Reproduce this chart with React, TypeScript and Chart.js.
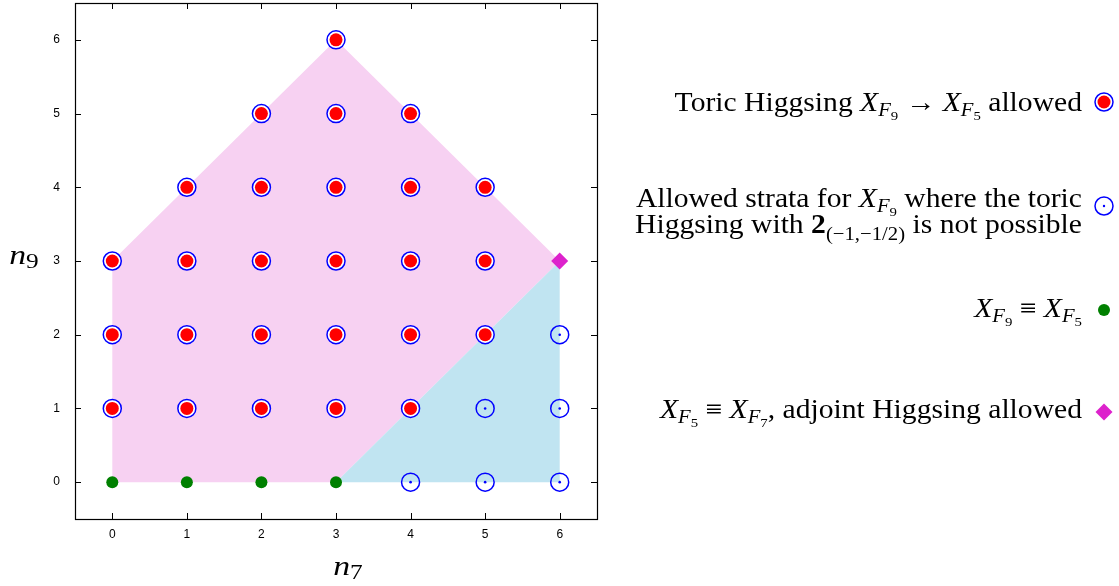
import React, { useEffect, useRef } from 'react';
import { Chart, registerables } from 'chart.js';
Chart.register(...registerables);

const xTicks = [0, 1, 2, 3, 4, 5, 6];
const yTicks = [0, 1, 2, 3, 4, 5, 6];
const yTickLabels = ['0', '1', '2', '3', '4', '5', '6'];
const toricX = [3, 2, 3, 4, 1, 2, 3, 4, 5, 0, 1, 2, 3, 4, 5, 0, 1, 2, 3, 4, 5, 0, 1, 2, 3, 4];
const toricY = [6, 5, 5, 5, 4, 4, 4, 4, 4, 3, 3, 3, 3, 3, 3, 2, 2, 2, 2, 2, 2, 1, 1, 1, 1, 1];
const strataX = [5, 6, 6, 4, 5, 6];
const strataY = [1, 1, 2, 0, 0, 0];
const equivX = [0, 1, 2, 3];
const equivY = [0, 0, 0, 0];
const adjointX = [6];
const adjointY = [3];
const pinkX = [0, 0, 3, 6, 3, 0];
const pinkY = [0, 3, 6, 3, 0, 0];
const blueX = [3, 6, 6, 3];
const blueY = [0, 0, 3, 0];

const PINK = '#f7d1f2';
const LBLUE = '#c0e4f1';
const BLUE = '#0000ff';
const RED = '#ff0000';
const GREEN = '#008000';
const MAGENTA = '#dd22cc';
const SERIF = "'Liberation Serif', 'DejaVu Serif', serif";
const SANS = "'Liberation Sans', 'DejaVu Sans', sans-serif";

type Run = { t: string; f?: 'i' | 'b' | 'r'; s?: number; dy?: number };

const I = (t: string): Run => ({ t, f: 'i' });
const R = (t: string): Run => ({ t, f: 'r' });
const XF = (n: string): Run[] => [
  { t: 'X', f: 'i' },
  { t: 'F', f: 'i', s: 0.7, dy: 0.2 },
  { t: n, f: 'r', s: 0.5, dy: 0.33 },
];

const legendLines: { runs: Run[]; base: number }[] = [
  { runs: [R('Toric Higgsing '), ...XF('9'), R(' \u2192 '), ...XF('5'), R(' allowed')], base: 111 },
  { runs: [R('Allowed strata for '), ...XF('9'), R(' where the toric')], base: 207 },
  {
    runs: [R('Higgsing with '), { t: '2', f: 'b' }, { t: '(\u22121,\u22121/2)', f: 'r', s: 0.7, dy: 0.25 }, R(' is not possible')],
    base: 233,
  },
  { runs: [...XF('9'), R(' \u2261 '), ...XF('5')], base: 317 },
  { runs: [...XF('5'), R(' \u2261 '), ...XF('7'), R(', adjoint Higgsing allowed')], base: 418 },
];

function fontOf(r: Run, size: number) {
  return `${r.f === 'i' ? 'italic ' : ''}${r.f === 'b' ? 'bold ' : ''}${(size * (r.s ?? 1)).toFixed(1)}px ${SERIF}`;
}

function drawRuns(
  ctx: CanvasRenderingContext2D,
  runs: Run[],
  x0: number,
  base: number,
  size: number,
  align: 'right' | 'left' | 'center',
  k: number
) {
  let w = 0;
  for (const r of runs) {
    ctx.font = fontOf(r, size);
    w += ctx.measureText(r.t).width;
  }
  const W = w * k;
  const start = align === 'right' ? x0 - W : align === 'center' ? x0 - W / 2 : x0;
  ctx.save();
  ctx.translate(start, 0);
  ctx.scale(k, 1);
  ctx.textAlign = 'left';
  ctx.textBaseline = 'alphabetic';
  ctx.fillStyle = '#000';
  let x = 0;
  for (const r of runs) {
    ctx.font = fontOf(r, size);
    ctx.fillText(r.t, x, base + (r.dy ?? 0) * size);
    x += ctx.measureText(r.t).width;
  }
  ctx.restore();
}

const decor = {
  id: 'decor',
  afterDraw(chart: any) {
    const ctx: CanvasRenderingContext2D = chart.ctx;
    const a = chart.chartArea;
    const xs = chart.scales.x;
    const ys = chart.scales.y;
    ctx.save();
    ctx.strokeStyle = '#000';
    ctx.lineWidth = 1;
    ctx.beginPath();
    for (const v of xTicks) {
      const px = Math.round(xs.getPixelForValue(v)) + 0.5;
      ctx.moveTo(px, a.bottom);
      ctx.lineTo(px, a.bottom - 6);
      ctx.moveTo(px, a.top);
      ctx.lineTo(px, a.top + 6);
    }
    for (const v of yTicks) {
      const py = Math.round(ys.getPixelForValue(v)) + 0.5;
      ctx.moveTo(a.left, py);
      ctx.lineTo(a.left + 6, py);
      ctx.moveTo(a.right, py);
      ctx.lineTo(a.right - 6, py);
    }
    ctx.stroke();
    ctx.lineWidth = 1.2;
    ctx.strokeRect(Math.round(a.left) + 0.5, Math.round(a.top) + 0.5, Math.round(a.right - a.left), Math.round(a.bottom - a.top));

    // y tick labels
    ctx.fillStyle = '#000';
    ctx.font = `12px ${SANS}`;
    ctx.textAlign = 'right';
    ctx.textBaseline = 'middle';
    yTicks.forEach((v, i) => {
      ctx.fillText(yTickLabels[i], a.left - 15, ys.getPixelForValue(v));
    });

    // axis titles
    drawRuns(ctx, [I('n'), { t: '7', f: 'r', s: 0.75, dy: 0.15 }], 348, 575, 27, 'center', 1.25);
    drawRuns(ctx, [I('n'), { t: '9', f: 'r', s: 0.75, dy: 0.15 }], 24, 264, 27, 'center', 1.25);

    // legend
    for (const l of legendLines) drawRuns(ctx, l.runs, 1082, l.base, 27, 'right', 1.097);

    // legend symbols
    const sx = 1104;
    ctx.lineWidth = 1.5;
    ctx.strokeStyle = BLUE;
    ctx.fillStyle = '#fff';
    ctx.beginPath();
    ctx.arc(sx, 102, 9, 0, Math.PI * 2);
    ctx.fill();
    ctx.stroke();
    ctx.fillStyle = RED;
    ctx.beginPath();
    ctx.arc(sx, 102, 6.5, 0, Math.PI * 2);
    ctx.fill();

    ctx.beginPath();
    ctx.arc(sx, 206, 9, 0, Math.PI * 2);
    ctx.stroke();
    ctx.fillStyle = BLUE;
    ctx.beginPath();
    ctx.arc(sx, 206, 1.2, 0, Math.PI * 2);
    ctx.fill();

    ctx.fillStyle = GREEN;
    ctx.beginPath();
    ctx.arc(sx, 310, 6, 0, Math.PI * 2);
    ctx.fill();

    ctx.fillStyle = MAGENTA;
    ctx.beginPath();
    ctx.moveTo(sx, 412 - 8.5);
    ctx.lineTo(sx + 8.5, 412);
    ctx.lineTo(sx, 412 + 8.5);
    ctx.lineTo(sx - 8.5, 412);
    ctx.closePath();
    ctx.fill();
    ctx.restore();
  },
};

const pts = (xs: number[], ys: number[]) => xs.map((x, i) => ({ x, y: ys[i] }));

export default function App() {
  const ref = useRef<HTMLCanvasElement>(null);
  useEffect(() => {
    document.body.style.margin = '0';
    const chart = new Chart(ref.current!, {
      type: 'scatter',
      data: {
        datasets: [
          {
            type: 'line',
            data: pts(pinkX, pinkY),
            showLine: true,
            fill: 'shape',
            backgroundColor: PINK,
            borderWidth: 0,
            borderColor: 'rgba(0,0,0,0)',
            pointRadius: 0,
            tension: 0,
            order: 20,
          } as any,
          {
            type: 'line',
            data: pts(blueX, blueY),
            showLine: true,
            fill: 'shape',
            backgroundColor: LBLUE,
            borderWidth: 0,
            borderColor: 'rgba(0,0,0,0)',
            pointRadius: 0,
            tension: 0,
            order: 19,
          } as any,
          {
            data: pts(toricX, toricY),
            pointRadius: 9,
            pointBorderColor: BLUE,
            pointBorderWidth: 1.5,
            pointBackgroundColor: '#fff',
            order: 6,
          },
          {
            data: pts(toricX, toricY),
            pointRadius: 6.5,
            pointBorderWidth: 0,
            pointBackgroundColor: RED,
            order: 5,
          },
          {
            data: pts(strataX, strataY),
            pointRadius: 9,
            pointBorderColor: BLUE,
            pointBorderWidth: 1.5,
            pointBackgroundColor: 'rgba(0,0,0,0)',
            order: 4,
          },
          {
            data: pts(strataX, strataY),
            pointRadius: 1.3,
            pointBorderWidth: 0,
            pointBackgroundColor: BLUE,
            order: 3,
          },
          {
            data: pts(equivX, equivY),
            pointRadius: 6,
            pointBorderWidth: 0,
            pointBackgroundColor: GREEN,
            order: 2,
          },
          {
            data: pts(adjointX, adjointY),
            pointStyle: 'rectRot',
            pointRadius: 8.5,
            pointBorderWidth: 0,
            pointBackgroundColor: MAGENTA,
            order: 1,
          },
        ],
      },
      options: {
        animation: false,
        responsive: true,
        maintainAspectRatio: false,
        devicePixelRatio: 1,
        layout: { autoPadding: false, padding: { left: 0, top: 3, right: 522, bottom: 0 } },
        plugins: { legend: { display: false }, tooltip: { enabled: false }, title: { display: false } },
        scales: {
          x: {
            type: 'linear',
            min: -0.5,
            max: 6.5,
            grid: { display: false, drawTicks: false },
            border: { display: false },
            ticks: { color: '#000', font: { family: SANS, size: 12 }, padding: 8 },
            afterBuildTicks: (s: any) => {
              s.ticks = xTicks.map((v) => ({ value: v }));
            },
            afterFit: (s: any) => {
              s.height = 67;
              s.paddingLeft = 0;
              s.paddingRight = 0;
            },
          },
          y: {
            type: 'linear',
            min: -0.5,
            max: 6.5,
            grid: { display: false, drawTicks: false },
            border: { display: false },
            ticks: { display: false },
            afterBuildTicks: (s: any) => {
              s.ticks = yTicks.map((v) => ({ value: v }));
            },
            afterFit: (s: any) => {
              s.width = 75;
              s.paddingTop = 0;
              s.paddingBottom = 0;
            },
          },
        },
      },
      plugins: [decor],
    });
    return () => chart.destroy();
  }, []);
  return (
    <div style={{ position: 'fixed', left: 0, top: 0, width: 1119, height: 586 }}>
      <canvas ref={ref} />
    </div>
  );
}
